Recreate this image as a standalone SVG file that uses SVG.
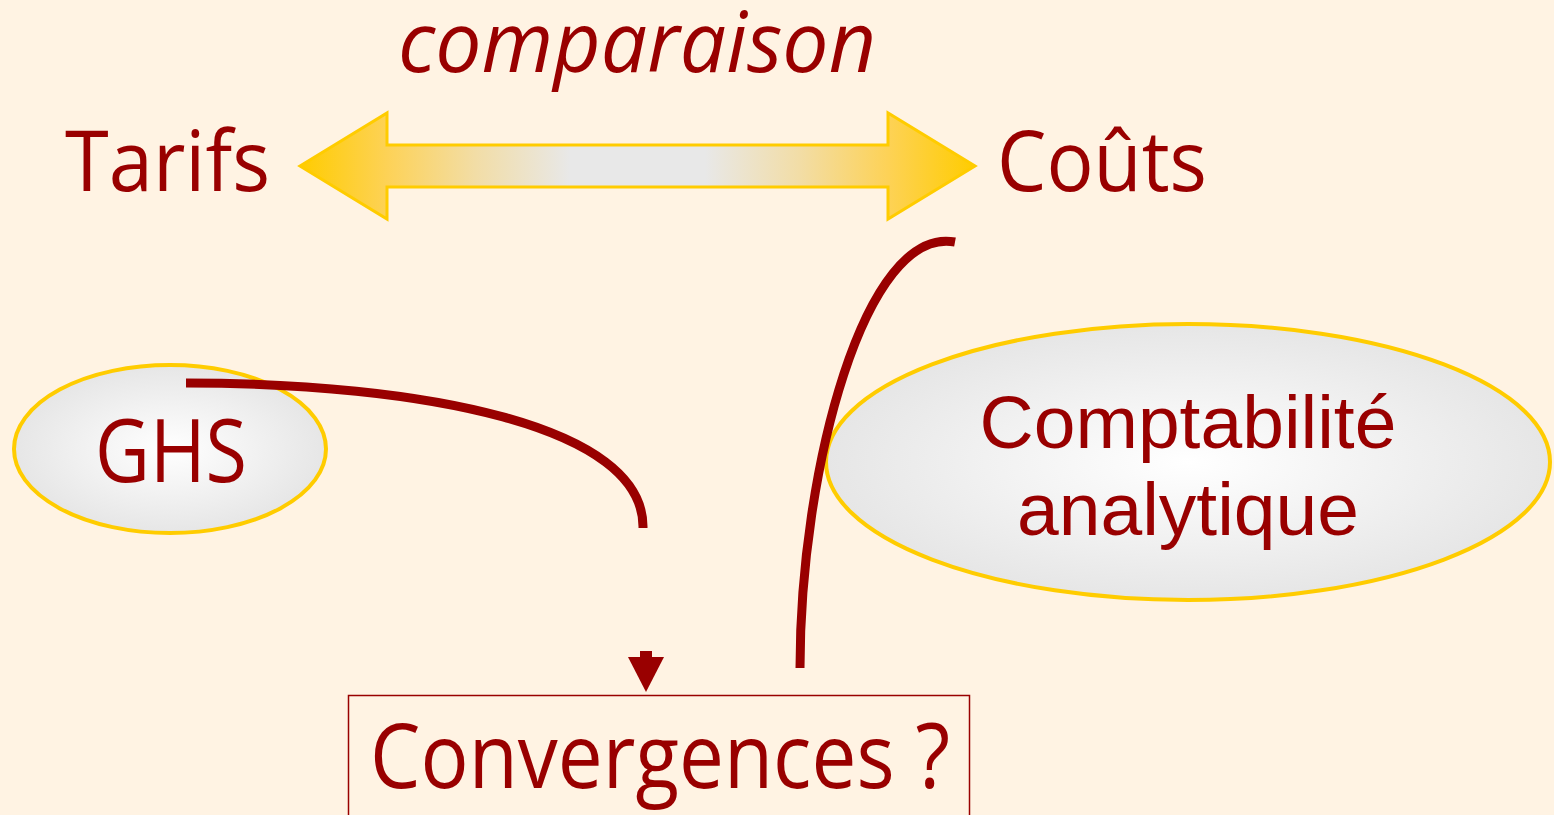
<svg xmlns="http://www.w3.org/2000/svg" width="1554" height="815" viewBox="0 0 1554 815">
<defs>
<linearGradient id="arrowGrad" x1="300" y1="0" x2="975" y2="0" gradientUnits="userSpaceOnUse">
<stop offset="0" stop-color="#FFCC00"/>
<stop offset="0.13" stop-color="#FDD257"/>
<stop offset="0.26" stop-color="#F2DDA6"/>
<stop offset="0.4" stop-color="#E8E8E8"/>
<stop offset="0.6" stop-color="#E8E8E8"/>
<stop offset="0.74" stop-color="#F2DDA6"/>
<stop offset="0.87" stop-color="#FDD257"/>
<stop offset="1" stop-color="#FFCC00"/>
</linearGradient>
<radialGradient id="ellGrad" cx="0.5" cy="0.5" r="0.5">
<stop offset="0" stop-color="#FFFFFF"/>
<stop offset="1" stop-color="#E6E6E6"/>
</radialGradient>
</defs>
<style>
.t{fill:#990000;font-family:"Open Sans","Noto Sans",sans-serif;}
.a{fill:#990000;font-family:"Liberation Sans",Arial,sans-serif;}
.ell{fill:url(#ellGrad);stroke:#FFCC00;stroke-width:4;}
.conn{fill:none;stroke:#990000;stroke-width:9;}
</style>
<rect x="0" y="0" width="1554" height="815" fill="#FFF3E3"/>
<g id="comparaison-arrow">
<polygon points="300,166 387,113 387,145 888,145 888,113 975,166 888,219 888,187 387,187 387,219" fill="url(#arrowGrad)" stroke="#FFCC00" stroke-width="3"/>
<text class="t" x="398" y="72" font-size="85" font-style="italic" textLength="478" lengthAdjust="spacingAndGlyphs">comparaison</text>
</g>
<g id="tarifs"><text class="t" x="65" y="191" font-size="84" textLength="205" lengthAdjust="spacingAndGlyphs">Tarifs</text></g>
<g id="couts"><text class="t" x="997" y="191" font-size="84" textLength="210" lengthAdjust="spacingAndGlyphs">Coûts</text></g>
<g id="ghs">
<ellipse class="ell" cx="170" cy="449" rx="156" ry="84"/>
<text class="t" x="95" y="482" font-size="88" textLength="152" lengthAdjust="spacingAndGlyphs">GHS</text>
</g>
<g id="compta">
<ellipse class="ell" cx="1188" cy="462" rx="362" ry="138"/>
<text class="a" x="1188" y="448" font-size="75" text-anchor="middle">Comptabilité</text>
<text class="a" x="1188" y="535" font-size="75" text-anchor="middle">analytique</text>
</g>
<g id="convergences">
<rect x="348.5" y="695.5" width="621" height="130" fill="none" stroke="#990000" stroke-width="1.5"/>
<text class="t" x="370" y="788" font-size="90" textLength="580" lengthAdjust="spacingAndGlyphs">Convergences ?</text>
</g>
<g id="connectors">
<path class="conn" d="M186,383 C420,383 645,425 643,528"/>
<path class="conn" d="M955,242 C865,225 800,470 800,668"/>
<rect x="640" y="651" width="12" height="7" fill="#990000"/>
<polygon points="628,657 664,657 646,692" fill="#990000"/>
</g>
</svg>
